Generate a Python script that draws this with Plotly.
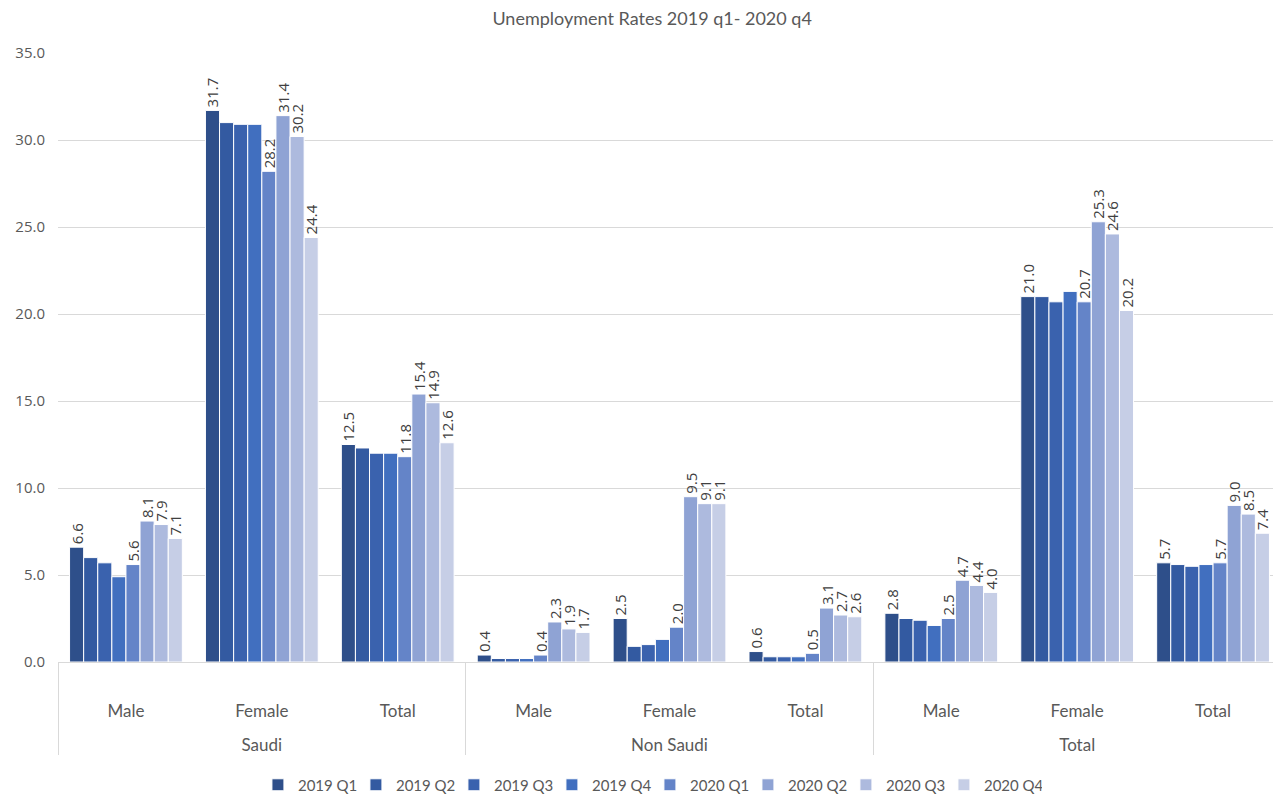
import plotly.graph_objects as go

groups = ["Saudi", "Saudi", "Saudi", "Non Saudi", "Non Saudi", "Non Saudi", "Total", "Total", "Total"]
genders = ["Male", "Female", "Total", "Male", "Female", "Total", "Male", "Female", "Total"]

series_names = ["2019 Q1", "2019 Q2", "2019 Q3", "2019 Q4", "2020 Q1", "2020 Q2", "2020 Q3", "2020 Q4"]

q1_2019 = [6.6, 31.7, 12.5, 0.4, 2.5, 0.6, 2.8, 21.0, 5.7]
q2_2019 = [6.0, 31.0, 12.3, 0.2, 0.9, 0.3, 2.5, 21.0, 5.6]
q3_2019 = [5.7, 30.9, 12.0, 0.2, 1.0, 0.3, 2.4, 20.7, 5.5]
q4_2019 = [4.9, 30.9, 12.0, 0.2, 1.3, 0.3, 2.1, 21.3, 5.6]
q1_2020 = [5.6, 28.2, 11.8, 0.4, 2.0, 0.5, 2.5, 20.7, 5.7]
q2_2020 = [8.1, 31.4, 15.4, 2.3, 9.5, 3.1, 4.7, 25.3, 9.0]
q3_2020 = [7.9, 30.2, 14.9, 1.9, 9.1, 2.7, 4.4, 24.6, 8.5]
q4_2020 = [7.1, 24.4, 12.6, 1.7, 9.1, 2.6, 4.0, 20.2, 7.4]

series_values = [q1_2019, q2_2019, q3_2019, q4_2019, q1_2020, q2_2020, q3_2020, q4_2020]
labelled = [True, False, False, False, True, True, True, True]

colors = ["#2E4F8A", "#335AA1", "#3A62AE", "#416FBF", "#6484C8", "#8FA3D4", "#ADBADE", "#C6CEE6"]

font_family = "Lato, Roboto, Arial"
num_family = "Open Sans, Noto Sans, Arial"
label_color = "#595959"

# blank lines push the outer label row down, as in the reference
outer_labels = ["<br><br>" + g for g in groups]

fig = go.Figure()
for name, vals, lab, col in zip(series_names, series_values, labelled, colors):
    fig.add_trace(go.Bar(
        name=name,
        x=[outer_labels, genders],
        y=vals,
        marker=dict(color=col, line=dict(color="white", width=1)),
        text=[f"{v:.1f}" for v in vals] if lab else None,
        textposition="outside" if lab else "none",
        textangle=-90,
        textfont=dict(size=15, color="#404040", family=num_family),
        cliponaxis=False,
        constraintext="none",
    ))

fig.update_layout(
    width=1273, height=787,
    barmode="group",
    bargap=0.17,
    bargroupgap=0,
    paper_bgcolor="white",
    plot_bgcolor="white",
    margin=dict(l=50, r=0, t=45, b=133, autoexpand=False),
    title=dict(text="Unemployment Rates 2019 q1- 2020 q4", x=0.506, xanchor="center",
               yref="container", y=0.987, yanchor="middle",
               font=dict(size=18, color=label_color, family=font_family)),
    font=dict(family=font_family, color=label_color, size=15),
    legend=dict(orientation="h", x=0.484, xanchor="center", y=-0.202, yanchor="middle",
                font=dict(size=15, color=label_color, family=font_family),
                itemwidth=30, entrywidth=53, traceorder="normal"),
)
fig.update_yaxes(range=[0, 35], dtick=5, tickformat=".1f", showgrid=True,
                 gridcolor="#D9D9D9", gridwidth=1, zeroline=False, showline=False,
                 tickfont=dict(size=15, color=label_color, family=num_family),
                 ticklabelstandoff=12)
fig.update_xaxes(type="multicategory", showline=True, linecolor="#D9D9D9",
                 showdividers=True, dividercolor="#D9D9D9", dividerwidth=1,
                 ticks="", ticklabelstandoff=34,
                 tickfont=dict(size=17, color=label_color, family=font_family))

fig.write_html("out.html")
